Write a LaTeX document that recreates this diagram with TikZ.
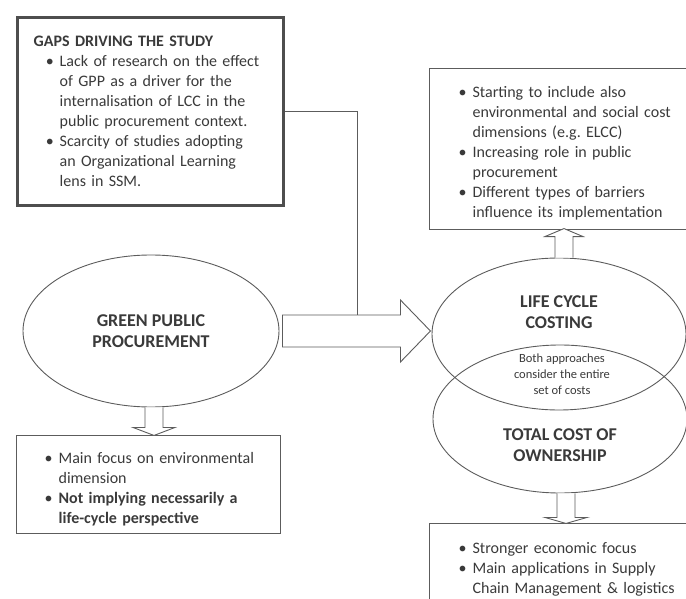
\documentclass[tikz,border=0pt]{standalone}
\usepackage{fontspec}
\setmainfont{Carlito}
\usetikzlibrary{shapes.geometric}

\definecolor{ink}{HTML}{3A3A3A}
\definecolor{edge}{HTML}{5C5C5C}
\newcommand{\bitem}[1]{\par\hangindent=26pt\hangafter=1\noindent\makebox[26pt][r]{\textbullet\hspace{6pt}}#1\par}

\tikzset{
  every node/.style={text=ink, font=\fontsize{16}{20}\selectfont},
  infobox/.style={draw=edge, line width=1.3pt, anchor=north west, align=left, inner ysep=0pt},
  oval/.style={draw=edge, ellipse, line width=0.9pt, inner sep=0pt},
  title/.style={font=\fontsize{18}{21}\selectfont\bfseries, align=center},
  blk/.style={draw=edge, line width=0.9pt, fill=white},
}

\begin{document}
\begin{tikzpicture}[x=1pt, y=-1pt]
  \useasboundingbox (0,0) rectangle (686,599);

  % gaps
  \node[infobox, draw=edge!85!black, line width=3.5pt, inner xsep=16.5pt, text width=233pt, minimum height=188pt] (gaps) at (15.5,16)
    {\textbf{GAPS DRIVING THE STUDY}
     \bitem{Lack of research on the effect\newline of GPP as a driver for the\newline internalisation of LCC in the\newline public procurement context.}
     \bitem{Scarcity of studies adopting\newline an Organizational Learning\newline lens in SSM.}};

  % ovals
  \node[oval, title, minimum width=256pt, minimum height=152pt] (gpp) at (151,331) {GREEN PUBLIC\\PROCUREMENT};
  \node[oval, minimum width=254pt, minimum height=152pt] (lcc) at (559,334) {};
  \node[oval, minimum width=254pt, minimum height=148pt] (tco) at (560,419) {};
  \node[title] (lcclabel) at ([yshift=22pt]lcc.center) {LIFE CYCLE\\COSTING};
  \node[title] (tcolabel) at ([yshift=-26pt]tco.center) {TOTAL COST OF\\OWNERSHIP};
  \node[font=\fontsize{12.5}{16}\selectfont, align=center] (both) at (562,374) {Both approaches\\consider the entire\\set of costs};

  % boxes
  \node[infobox, inner xsep=17pt, text width=237pt, minimum height=161pt] (lccbox) at (429,68)
    {\bitem{Starting to include also\newline environmental and social cost\newline dimensions (e.g.\ ELCC)}
     \bitem{Increasing role in public\newline procurement}
     \bitem{Different types of barriers\newline influence its implementation}};
  \node[infobox, inner xsep=16pt, text width=232pt, minimum height=98pt] (gppbox) at (16,435)
    {\bitem{Main focus on environmental\newline dimension}
     \bitem{\textbf{Not implying necessarily a\newline life-cycle perspective}}};
  \node[infobox, inner xsep=17pt, text width=237pt, minimum height=82pt] (tcobox) at (429,523)
    {\bitem{Stronger economic focus}
     \bitem{Main applications in Supply\newline Chain Management \& logistics}};

  % arrows
  \coordinate (join) at (357,315);
  \draw[edge, line width=1pt] (gaps.east) -| (join);
  \draw[blk] ([xshift=3pt, yshift=16pt]gpp.east) -- ++(118,0) -- ++(0,-15) -- ++(30,31)
    -- ++(-30,31) -- ++(0,-15) -- ++(-118,0) -- cycle;
  \draw[blk] ([xshift=-6pt]gpp.south) -- ++(0,20) -- ++(-12,0) -- ++(21,8) -- ++(21,-8) -- ++(-12,0) -- ++(0,-20);
  \draw[blk] ([xshift=-4pt]lcc.north) -- ++(0,-21) -- ++(-10,0) -- ++(19,-8) -- ++(19,8) -- ++(-10,0) -- ++(0,21);
  \draw[blk] ([xshift=-3pt]tco.south) -- ++(0,24) -- ++(-12,0) -- ++(21,6) -- ++(21,-6) -- ++(-12,0) -- ++(0,-24);
\end{tikzpicture}
\end{document}
